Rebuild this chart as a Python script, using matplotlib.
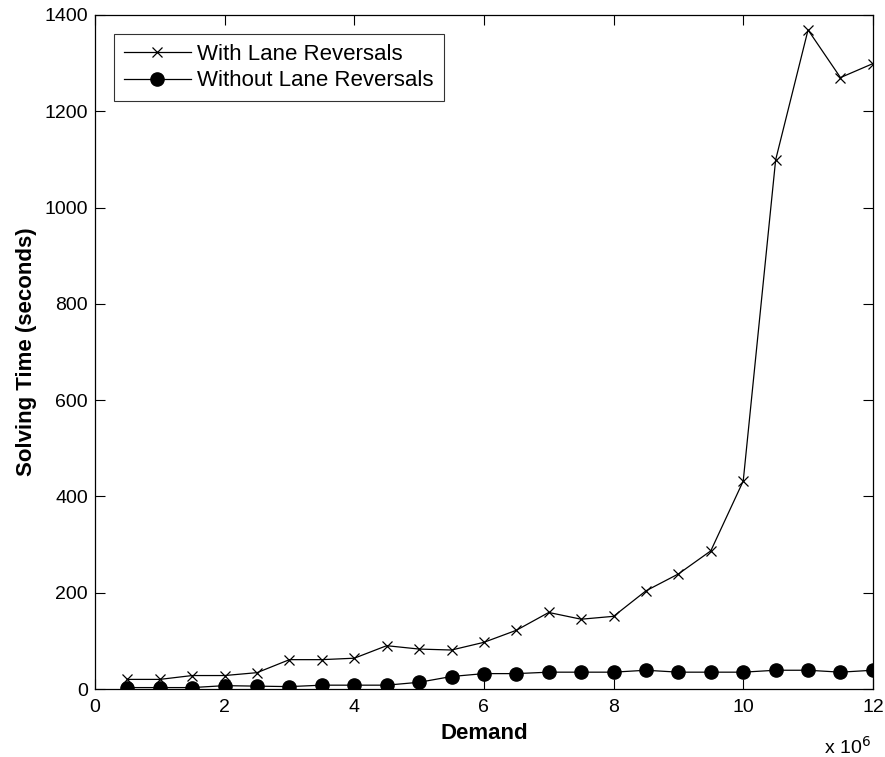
import matplotlib
matplotlib.use("Agg")
import matplotlib.pyplot as plt
from matplotlib.ticker import FuncFormatter

plt.rcParams["font.family"] = ["Liberation Sans", "DejaVu Sans"]

# demand (number of vehicles) and solving times in seconds
demand = [0.5e6, 1.0e6, 1.5e6, 2.0e6, 2.5e6, 3.0e6, 3.5e6, 4.0e6,
          4.5e6, 5.0e6, 5.5e6, 6.0e6, 6.5e6, 7.0e6, 7.5e6, 8.0e6,
          8.5e6, 9.0e6, 9.5e6, 10.0e6, 10.5e6, 11.0e6, 11.5e6, 12.0e6]
with_lr = [20, 20, 28, 28, 34, 61, 61, 64,
           90, 83, 81, 97, 122, 159, 145, 151,
           204, 239, 287, 432, 1099, 1369, 1270, 1299]
without_lr = [3, 3, 3, 7, 6, 5, 8, 8,
              8, 14, 26, 32, 32, 35, 35, 35,
              39, 35, 35, 35, 39, 39, 35, 39]

fig = plt.figure(figsize=(8.85, 7.57), dpi=100)
ax = fig.add_axes([0.1073, 0.0898, 0.879, 0.8904])

ax.plot(demand, with_lr, color="black", lw=0.9, marker="x", ms=7.5,
        mew=0.9, label="With Lane Reversals")
ax.plot(demand, without_lr, color="black", lw=0.9, marker="o", ms=9.5,
        label="Without Lane Reversals")

ax.set_xlim(0, 12e6)
ax.set_ylim(0, 1400)
ax.set_xticks([0, 2e6, 4e6, 6e6, 8e6, 10e6, 12e6])
ax.set_yticks(range(0, 1401, 200))
ax.xaxis.set_major_formatter(FuncFormatter(lambda v, p: f"{v / 1e6:g}"))
ax.tick_params(direction="in", length=7, width=0.8, labelsize=14,
               top=True, right=True, pad=5)
ax.tick_params(axis="x", pad=7)
for s in ax.spines.values():
    s.set_linewidth(0.9)

ax.set_xlabel("Demand", fontsize=16, fontweight="bold", labelpad=5)
ax.set_ylabel("Solving Time (seconds)", fontsize=16, fontweight="bold", labelpad=5.5)
fig.text(0.984, 0.004, "x 10$^6$", ha="right", va="baseline", fontsize=14)

leg = ax.legend(loc="upper left", fontsize=16, frameon=True, fancybox=False,
                edgecolor="black", borderpad=0.45, handlelength=3.0,
                handletextpad=0.3, labelspacing=0.25, borderaxespad=0.85)
leg.get_frame().set_linewidth(0.8)

fig.savefig("out.png", dpi=100, facecolor="white")
